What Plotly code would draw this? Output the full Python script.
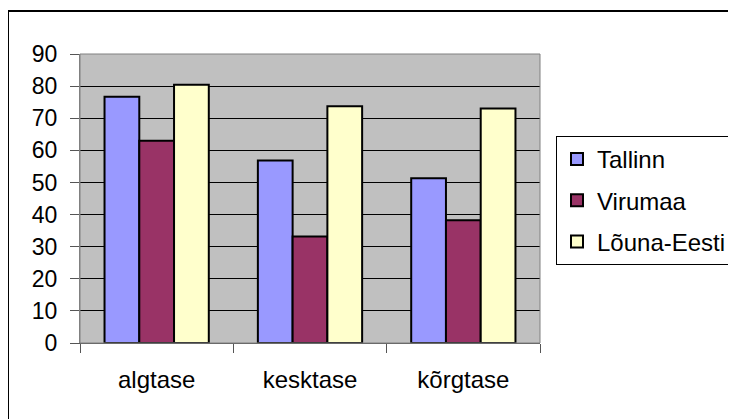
import plotly.graph_objects as go

categories = ["algtase", "kesktase", "kõrgtase"]
tallinn = [76.7, 56.8, 51.3]
virumaa = [63.0, 33.2, 38.2]
louna_eesti = [80.4, 73.7, 73.0]
y_ticks = [0, 10, 20, 30, 40, 50, 60, 70, 80, 90]

series = [
    ("Tallinn", tallinn, "#9999FF"),
    ("Virumaa", virumaa, "#993366"),
    ("Lõuna-Eesti", louna_eesti, "#FFFFCC"),
]

FONT = "Liberation Sans, Arial, sans-serif"

fig = go.Figure()
for i, (name, vals, color) in enumerate(series):
    fig.add_trace(go.Bar(
        x=categories, y=vals, name=name, legendgroup=f"g{i}",
        marker=dict(color=color, line=dict(color="black", width=2)),
    ))

OFF = 8  # page body margin
W, H = 736 - OFF, 419 - OFF
# target plot area in screen px: x 80..540, y 54..343
L, T = 80 - OFF, 54 - OFF
R = W - (540 - OFF)
B = H - (343 - OFF)
pw, ph = W - L - R, H - T - B

def px_to_paper_x(px):
    return (px - OFF - L) / pw

def px_to_paper_y(py):
    return (343 - py) / ph

fig.update_layout(
    width=W, height=H,
    margin=dict(l=L, r=R, t=T, b=B, autoexpand=False),
    paper_bgcolor="white",
    plot_bgcolor="#C0C0C0",
    barmode="group",
    bargap=0.32,
    bargroupgap=0,
    font=dict(family=FONT, size=23, color="black"),
    showlegend=True,
    legend=dict(
        x=px_to_paper_x(556), y=px_to_paper_y(136),
        xanchor="left", yanchor="top",
        bordercolor="black", borderwidth=1,
        bgcolor="white",
        font=dict(family=FONT, size=24, color="black"),
        tracegroupgap=7,
        traceorder="grouped",
    ),
    xaxis=dict(
        tickson="boundaries", ticks="outside", ticklen=9, tickcolor="#555555",
        showline=True, linecolor="#555555", linewidth=1,
        showgrid=False,
        tickfont=dict(size=24),
        ticklabelstandoff=15,
    ),
    yaxis=dict(
        range=[0, 90], tickvals=y_ticks,
        ticks="outside", ticklen=9, tickcolor="#555555",
        showline=True, linecolor="#808080", linewidth=1, mirror=False,
        showgrid=True, gridcolor="black", gridwidth=1,
        zeroline=False,
        tickfont=dict(size=23),
        ticklabelstandoff=8,
    ),
    shapes=[
        dict(type="rect", xref="paper", yref="paper", x0=0, y0=0, x1=1, y1=1,
             line=dict(color="#808080", width=1), layer="above"),
        dict(type="rect", xref="paper", yref="paper",
             x0=px_to_paper_x(8), y0=px_to_paper_y(430),
             x1=px_to_paper_x(745), y1=px_to_paper_y(11),
             line=dict(color="black", width=2), layer="above"),
    ],
)

fig.write_html("out.html")
